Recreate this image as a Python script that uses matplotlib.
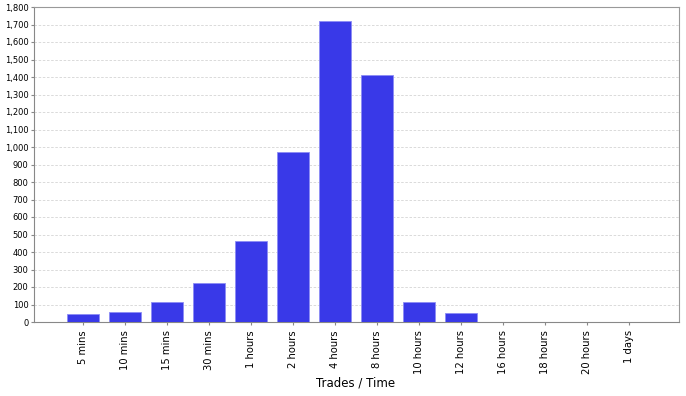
import matplotlib.pyplot as plt
import numpy as np
from matplotlib.ticker import MultipleLocator, FuncFormatter

# Data
categories = ['5 mins', '10 mins', '15 mins', '30 mins', '1 hours', '2 hours',
              '4 hours', '8 hours', '10 hours', '12 hours', '16 hours',
              '18 hours', '20 hours', '1 days']
trades = [45, 57, 114, 223, 463, 971, 1722, 1413, 114, 51, 0, 0, 0, 0]

fig = plt.figure(figsize=(6.86, 3.96), dpi=100)
ax = fig.add_axes([34/686, 74/396, 645/686, 315/396])

x = np.arange(len(categories))
ax.bar(x, trades, width=0.76, color='#3939E8', edgecolor='#8C8CF5',
       linewidth=0.6, zorder=3)

ax.set_xlim(-1.17, len(categories) + 0.19)
ax.set_ylim(0, 1800)
ax.yaxis.set_major_locator(MultipleLocator(100))
ax.yaxis.set_major_formatter(FuncFormatter(lambda v, p: f'{int(v):,}'))
ax.grid(axis='y', color='#d4d4d4', linestyle=(0, (3, 2)), linewidth=0.6, zorder=0)

ax.set_xticks(x)
ax.set_xticklabels(categories, rotation=90, fontsize=7.2)
ax.tick_params(axis='y', labelsize=6, length=2, color='#888888', pad=2)
ax.tick_params(axis='x', length=2, color='#888888', pad=4)

for s in ax.spines.values():
    s.set_color('#999999')
    s.set_linewidth(0.8)
ax.spines['bottom'].set_color('#888888')
ax.spines['left'].set_color('#888888')

fig.text(356/686, 1 - 383/396, 'Trades / Time', fontsize=8.5,
         ha='center', va='center')

fig.savefig('out.png', dpi=100)
